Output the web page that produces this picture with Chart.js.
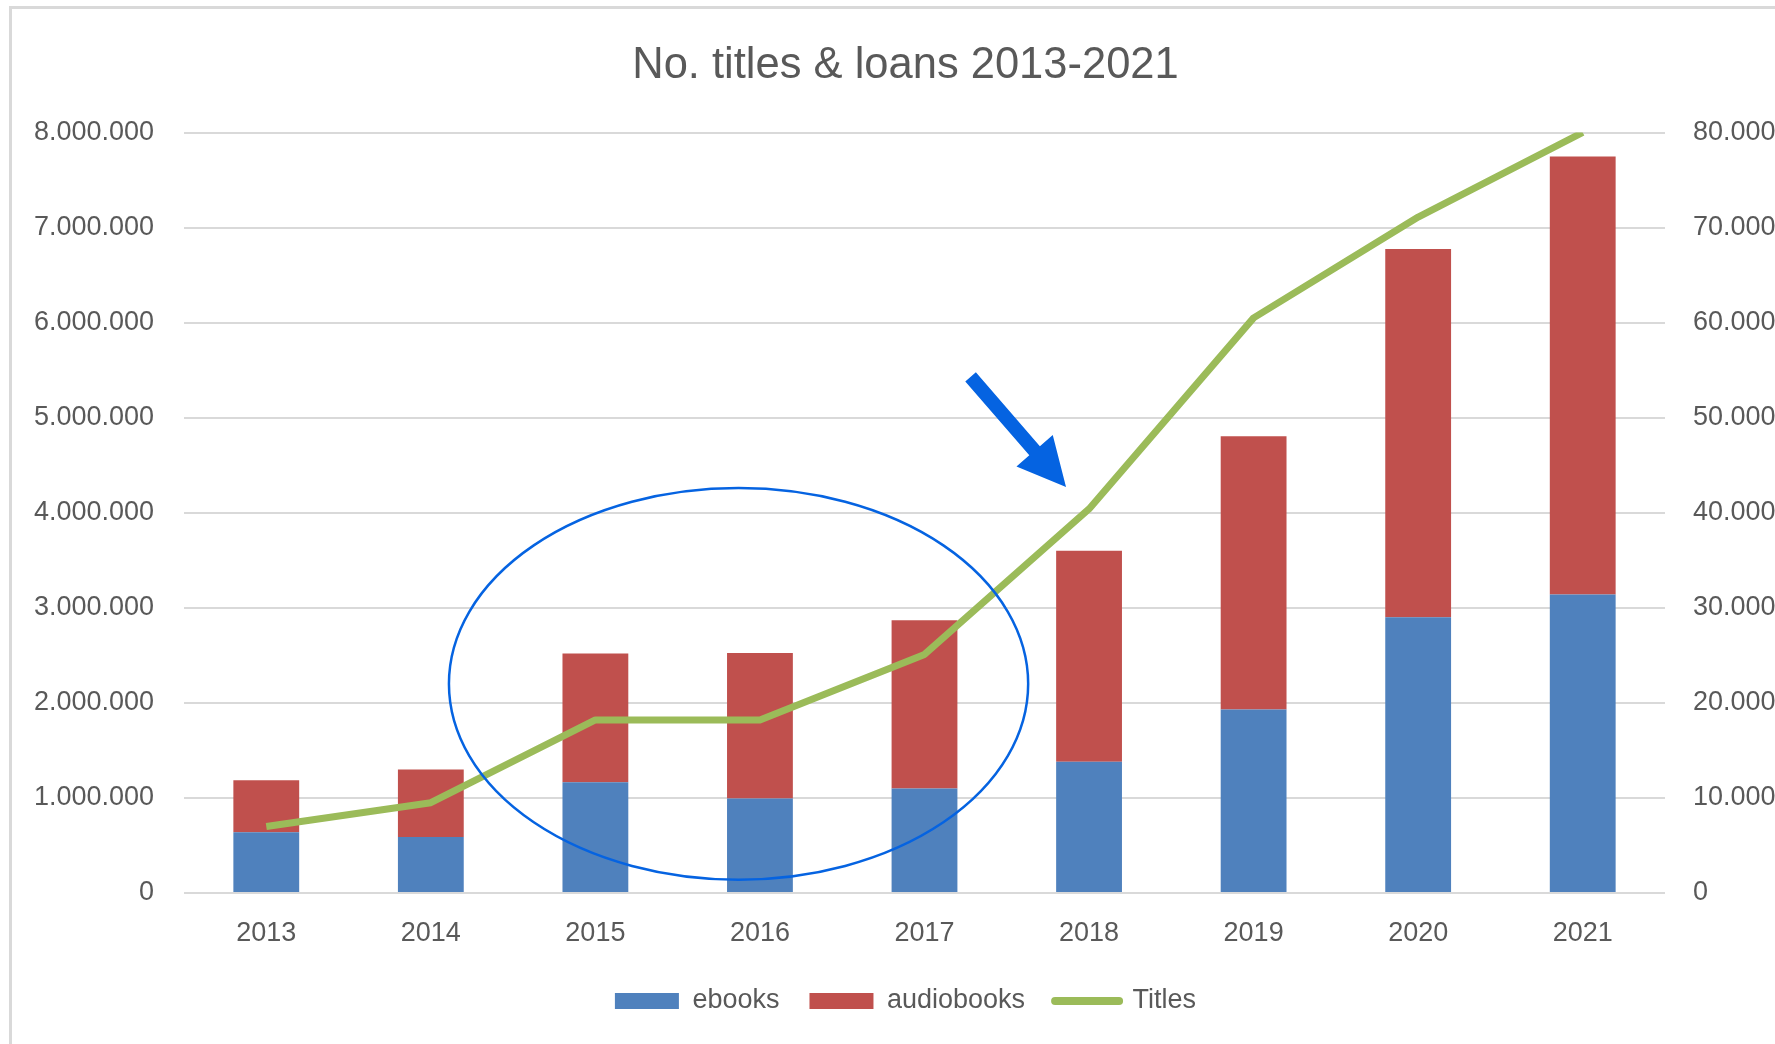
<!DOCTYPE html>
<html>
<head>
<meta charset="utf-8">
<script src="https://cdn.jsdelivr.net/npm/chart.js@4.4.1/dist/chart.umd.min.js"></script>
<style>
  body { margin: 0; background: #fff; }
  #wrap { position: relative; width: 1775px; height: 1044px; overflow: hidden; }
  #frame { position: absolute; left: 9px; top: 6px; width: 1800px; height: 1100px; border: 3px solid #d9d9d9; box-sizing: border-box; }
  #chartBox { position: absolute; left: 0; top: 0; width: 1811px; height: 1044px; }
</style>
</head>
<body>
<div id="wrap">
  <div id="frame"></div>
  <div id="chartBox"><canvas id="loansChart"></canvas></div>
</div>
<script>
const years = ['2013', '2014', '2015', '2016', '2017', '2018', '2019', '2020', '2021'];
const ebooks = [640000, 590000, 1165000, 995000, 1100000, 1380000, 1930000, 2900000, 3140000];
const audiobooks = [545000, 710000, 1355000, 1529000, 1770000, 2220000, 2875000, 3874000, 4607000];
const titles = [7000, 9500, 18200, 18200, 25100, 40400, 60500, 71100, 80000];

const loansTicks = [0, 1000000, 2000000, 3000000, 4000000, 5000000, 6000000, 7000000, 8000000];
const titleTicks = [0, 10000, 20000, 30000, 40000, 50000, 60000, 70000, 80000];

// blue marks drawn on top (in axis units)
const ring = { x: 2.87, y: 2200000, rx: 1.76, ry: 2060000 };
const arrowFrom = { x: 4.28, y: 5430000 };
const arrowTo = { x: 4.86, y: 4270000 };

const grey = '#595959';
const baseFont = { family: "'Liberation Sans', Arial, sans-serif", size: 27 };

function dots(v) {
  return String(v).replace(/\B(?=(\d{3})+(?!\d))/g, '.');
}

const marksPlugin = {
  id: 'marks',
  afterDatasetsDraw(chart) {
    const ctx = chart.ctx;
    const xs = chart.scales.x, ys = chart.scales.y;

    // ellipse
    const cx = xs.getPixelForValue(ring.x);
    const cy = ys.getPixelForValue(ring.y);
    const rx = xs.getPixelForValue(ring.x + ring.rx) - cx;
    const ry = cy - ys.getPixelForValue(ring.y + ring.ry);
    ctx.save();
    ctx.beginPath();
    ctx.ellipse(cx, cy, rx, ry, 0, 0, Math.PI * 2);
    ctx.strokeStyle = '#0563e1';
    ctx.lineWidth = 2.5;
    ctx.stroke();

    // arrow
    const x0 = xs.getPixelForValue(arrowFrom.x), y0 = ys.getPixelForValue(arrowFrom.y);
    const x1 = xs.getPixelForValue(arrowTo.x), y1 = ys.getPixelForValue(arrowTo.y);
    const len = Math.hypot(x1 - x0, y1 - y0);
    const dx = (x1 - x0) / len, dy = (y1 - y0) / len;
    const nx = -dy, ny = dx;
    const head = 48, hw = 24, sw = 7;
    const bx = x1 - dx * head, by = y1 - dy * head;
    ctx.beginPath();
    ctx.moveTo(x0 + nx * sw, y0 + ny * sw);
    ctx.lineTo(bx + nx * sw, by + ny * sw);
    ctx.lineTo(bx + nx * hw, by + ny * hw);
    ctx.lineTo(x1, y1);
    ctx.lineTo(bx - nx * hw, by - ny * hw);
    ctx.lineTo(bx - nx * sw, by - ny * sw);
    ctx.lineTo(x0 - nx * sw, y0 - ny * sw);
    ctx.closePath();
    ctx.fillStyle = '#0563e1';
    ctx.fill();
    ctx.restore();
  }
};

const ctx = document.getElementById('loansChart').getContext('2d');

new Chart(ctx, {
  type: 'bar',
  data: {
    labels: years,
    datasets: [
      {
        label: 'ebooks',
        data: ebooks,
        backgroundColor: '#4f81bd',
        yAxisID: 'y',
        barPercentage: 0.4,
        categoryPercentage: 1
      },
      {
        label: 'audiobooks',
        data: audiobooks,
        backgroundColor: '#c0504d',
        yAxisID: 'y',
        barPercentage: 0.4,
        categoryPercentage: 1
      },
      {
        type: 'line',
        label: 'Titles',
        data: titles,
        borderColor: '#9bbb59',
        backgroundColor: '#9bbb59',
        borderWidth: 7,
        borderJoinStyle: 'round',
        tension: 0,
        pointRadius: 0,
        yAxisID: 'y1',
        order: -1
      }
    ]
  },
  options: {
    responsive: true,
    maintainAspectRatio: false,
    animation: false,
    layout: { padding: { left: 0, right: 0, top: 0, bottom: 19.5 } },
    plugins: {
      title: {
        display: true,
        text: 'No. titles & loans 2013-2021',
        color: grey,
        font: { ...baseFont, size: 43.5, weight: 'normal' },
        padding: { top: 39.5, bottom: 40.8 }
      },
      legend: {
        position: 'bottom',
        labels: {
          color: grey,
          font: baseFont,
          boxWidth: 64,
          boxHeight: 16,
          usePointStyle: true,
          pointStyleWidth: 64,
          padding: 30,
          sort: (a, b) => a.datasetIndex - b.datasetIndex,
          generateLabels(chart) {
            const items = Chart.defaults.plugins.legend.labels.generateLabels(chart);
            items.forEach(it => {
              if (it.text === 'Titles') {
                it.pointStyle = 'line';
                it.strokeStyle = '#9bbb59';
                it.lineWidth = 8;
                it.lineCap = 'round';
              } else {
                it.pointStyle = 'rect';
                it.lineWidth = 0;
              }
            });
            return items;
          }
        }
      },
      tooltip: { enabled: false }
    },
    scales: {
      x: {
        stacked: true,
        grid: { display: false },
        border: { display: false },
        ticks: { color: grey, font: baseFont, padding: 16.5 },
        afterFit: s => { s.height = 64.5; }
      },
      y: {
        stacked: true,
        position: 'left',
        min: 0,
        max: 8000000,
        afterBuildTicks: s => { s.ticks = loansTicks.map(v => ({ value: v })); },
        grid: { color: '#d9d9d9', lineWidth: 2, drawTicks: false },
        border: { display: false },
        ticks: { color: grey, font: baseFont, padding: 30, callback: v => dots(v) },
        afterFit: s => { s.width = 184; }
      },
      y1: {
        position: 'right',
        min: 0,
        max: 80000,
        afterBuildTicks: s => { s.ticks = titleTicks.map(v => ({ value: v })); },
        grid: { display: false, drawTicks: false },
        border: { display: false },
        ticks: { color: grey, font: baseFont, padding: 28, callback: v => dots(v) },
        afterFit: s => { s.width = 146; }
      }
    }
  },
  plugins: [marksPlugin]
});
</script>
</body>
</html>
